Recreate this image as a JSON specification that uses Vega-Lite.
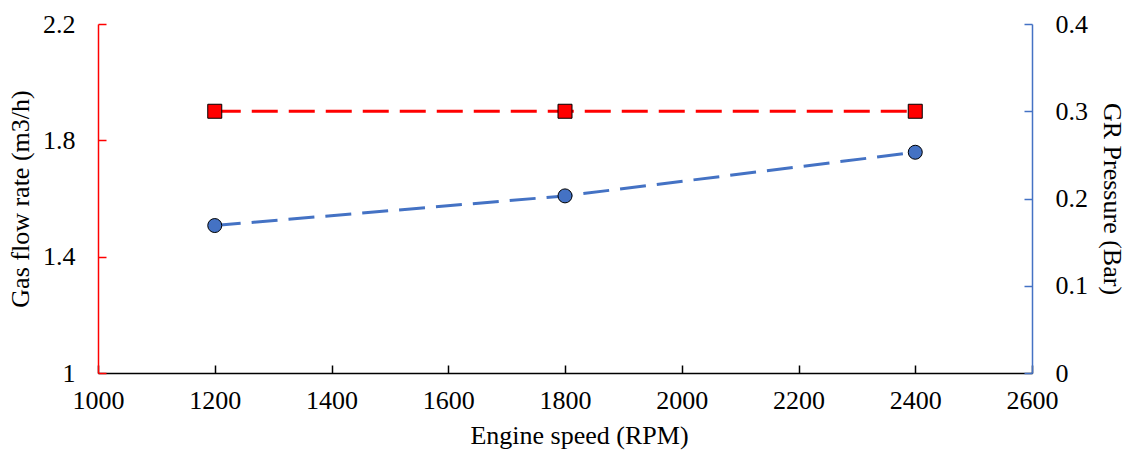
{
  "$schema": "https://vega.github.io/schema/vega-lite/v6.json",
  "width": 934,
  "height": 349,
  "autosize": {"type": "none"},
  "padding": {"left": 98, "top": 24, "right": 94, "bottom": 80},
  "background": "white",
  "config": {
    "view": {"stroke": null},
    "font": "Liberation Serif",
    "axis": {
      "labelFont": "Liberation Serif",
      "titleFont": "Liberation Serif",
      "labelFontSize": 26,
      "titleFontSize": 26,
      "labelColor": "black",
      "titleColor": "black",
      "titleFontWeight": "normal",
      "grid": false,
      "tickSize": -8,
      "tickWidth": 1.5,
      "domainWidth": 1.5,
      "labelFlush": false
    }
  },
  "data": {
    "values": [
      {"rpm": 1200, "gas": 1.9, "pressure": 0.169},
      {"rpm": 1800, "gas": 1.9, "pressure": 0.203},
      {"rpm": 2400, "gas": 1.9, "pressure": 0.253}
    ]
  },
  "encoding": {
    "x": {
      "field": "rpm",
      "type": "quantitative",
      "scale": {"domain": [1000, 2600], "nice": false, "zero": false},
      "axis": {
        "title": "Engine speed (RPM)",
        "values": [1000, 1200, 1400, 1600, 1800, 2000, 2200, 2400, 2600],
        "format": "d",
        "domainColor": "black",
        "tickColor": "black",
        "labelPadding": 22,
        "titlePadding": 9,
        "titleX": 481
      }
    }
  },
  "layer": [
    {
      "encoding": {
        "y": {
          "field": "gas",
          "type": "quantitative",
          "scale": {"domain": [1, 2.2], "nice": false, "zero": false},
          "axis": {
            "orient": "left",
            "title": "Gas flow rate (m3/h)",
            "values": [1, 1.4, 1.8, 2.2],
            "format": "~g",
            "domainColor": "#FF0000",
            "tickColor": "#FF0000",
            "labelPadding": 31,
            "titlePadding": 9
          }
        }
      },
      "layer": [
        {"mark": {"type": "line", "color": "#FF0000", "strokeWidth": 3, "strokeDash": [26, 11]}},
        {"mark": {"type": "point", "shape": "square", "filled": true, "size": 196, "fill": "#FF0000", "stroke": "black", "strokeWidth": 1, "opacity": 1}}
      ]
    },
    {
      "encoding": {
        "y": {
          "field": "pressure",
          "type": "quantitative",
          "scale": {"domain": [0, 0.4], "nice": false},
          "axis": {
            "orient": "right",
            "title": "GR Pressure (Bar)",
            "values": [0, 0.1, 0.2, 0.3, 0.4],
            "format": "~g",
            "domainColor": "#4472C4",
            "tickColor": "#4472C4",
            "labelPadding": 31,
            "titlePadding": 11
          }
        }
      },
      "layer": [
        {"mark": {"type": "line", "color": "#4472C4", "strokeWidth": 3, "strokeDash": [26, 11]}},
        {"mark": {"type": "point", "shape": "circle", "filled": true, "size": 196, "fill": "#4472C4", "stroke": "black", "strokeWidth": 1, "opacity": 1}}
      ]
    }
  ],
  "resolve": {"scale": {"y": "independent"}}
}
